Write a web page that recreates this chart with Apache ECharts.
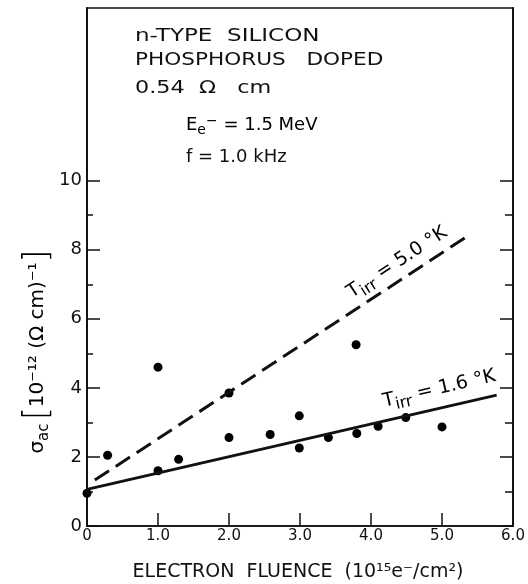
<!DOCTYPE html>
<html><head><meta charset="utf-8">
<script src="https://cdn.jsdelivr.net/npm/echarts@6/dist/echarts.min.js"></script>
<style>html,body{margin:0;padding:0;background:#fff}#c{width:528px;height:584px}</style>
</head><body><div id="c"></div>
<script>
// Measured points
const fluence = [0, 0.29, 1.0, 1.0, 1.29, 2.0, 2.0, 2.58, 2.99, 2.99, 3.4, 3.8, 3.79, 4.1, 4.49, 5.0];
const sigma   = [0.95, 2.05, 1.6, 4.6, 1.93, 2.56, 3.85, 2.65, 3.19, 2.26, 2.56, 2.68, 5.25, 2.89, 3.14, 2.87];
// Fit lines (endpoints)
const fit16X = [0, 5.77];
const fit16Y = [1.06, 3.79];
const fit50X = [0.11, 5.35];
const fit50Y = [1.33, 8.38];
// Tick labels
const xTicks = [0, 1, 2, 3, 4, 5, 6];
const xTickLabels = ['0', '1.0', '2.0', '3.0', '4.0', '5.0', '6.0'];
const yMajor = [0, 2, 4, 6, 8, 10];
const yMinor = [1, 3, 5, 7, 9];
const infoLines = ['n-TYPE  SILICON', 'PHOSPHORUS   DOPED', '0.54  Ω   cm'];

const FONT = 'DejaVu Sans';
const INK = '#111';
const chart = echarts.init(document.getElementById('c'), null, {renderer: 'canvas'});

const axisLine = {show: true, lineStyle: {color: INK, width: 1.5}};
function yAx(pos, ticks, len, labels) {
  return {
    type: 'value', position: pos, min: 0, max: 15,
    axisLine: axisLine,
    splitLine: {show: false},
    axisTick: {show: true, inside: true, length: len, customValues: ticks, lineStyle: {color: INK, width: 1.5}},
    axisLabel: labels ? {show: true, customValues: yMajor, color: INK, fontFamily: FONT, fontSize: 18, margin: 5} : {show: false}
  };
}

chart.setOption({
  animation: false,
  backgroundColor: '#fff',
  grid: {left: 87, right: 15, top: 8, bottom: 58, containLabel: false, show: true, borderColor: INK, borderWidth: 1.5, backgroundColor: 'transparent'},
  xAxis: [
    {type: 'value', position: 'bottom', min: 0, max: 6,
     axisLine: axisLine, splitLine: {show: false},
     axisTick: {show: true, inside: true, length: 13, customValues: [1, 2, 3, 4, 5], lineStyle: {color: INK, width: 1.5}},
     axisLabel: {show: true, customValues: xTicks, color: INK, fontFamily: FONT, fontSize: 15, margin: 3,
       formatter: v => xTickLabels[xTicks.indexOf(v)] ?? ''}}
  ],
  yAxis: [
    yAx('left', yMajor, 13, true),
    yAx('left', yMinor, 6, false),
    yAx('right', yMajor, 13, false),
    yAx('right', yMinor, 8, false)
  ],
  series: [
    {type: 'line', data: fit16X.map((x, i) => [x, fit16Y[i]]), showSymbol: false, symbol: 'none',
     lineStyle: {color: INK, width: 3}},
    {type: 'line', data: fit50X.map((x, i) => [x, fit50Y[i]]), showSymbol: false, symbol: 'none',
     lineStyle: {color: INK, width: 3, type: [17, 8]}},
    {type: 'scatter', data: fluence.map((x, i) => [x, sigma[i]]), symbol: 'circle', symbolSize: 9,
     itemStyle: {color: '#000', opacity: 1}}
  ]
});

function px(x, y) { return chart.convertToPixel({gridIndex: 0}, [x, y]); }
function angleOf(xs, ys) {
  const a = px(xs[0], ys[0]), b = px(xs[1], ys[1]);
  return Math.atan2(a[1] - b[1], b[0] - a[0]);
}
const richT = {
  n: {fontFamily: FONT, fontSize: 19, color: INK, lineHeight: 28, verticalAlign: 'middle'},
  sub: {fontFamily: FONT, fontSize: 16, color: INK, lineHeight: 28, verticalAlign: 'bottom', padding: [9, 0, 0, 0]}
};
const l50 = px(4.37, 7.63), l16 = px(4.96, 3.97);
const yTitlePos = px(0, 5.05);
const gfx = [];
const infoScale = [1.28, 1.2, 1.24];
infoLines.forEach((t, i) => {
  gfx.push({type: 'text', x: 135, y: [27, 51, 79][i], scaleX: infoScale[i],
    style: {text: t, fontFamily: FONT, fontSize: 18, fill: INK}});
});
gfx.push({type: 'text', left: 186, top: 114,
  style: {text: '{n|E}{sub|e}{sup|−}{n| = 1.5 MeV}', rich: {
    n: {fontFamily: FONT, fontSize: 18, color: INK},
    sub: {fontFamily: FONT, fontSize: 14, color: INK, padding: [10, 0, 0, 0]},
    sup: {fontFamily: FONT, fontSize: 14, color: INK, padding: [0, 0, 8, 0]}
  }}});
gfx.push({type: 'text', left: 186, top: 148,
  style: {text: 'f = 1.0 kHz', fontFamily: FONT, fontSize: 18, fill: INK}});
gfx.push({type: 'text', x: l50[0], y: l50[1], rotation: angleOf(fit50X, fit50Y),
  style: {text: '{n|T}{sub|irr}{n| = 5.0 °K}', rich: richT, align: 'center', verticalAlign: 'middle', textAlign: 'center', textVerticalAlign: 'middle'}});
gfx.push({type: 'text', x: l16[0], y: l16[1], rotation: angleOf(fit16X, fit16Y),
  style: {text: '{n|T}{sub|irr}{n| = 1.6 °K}', rich: richT, align: 'center', verticalAlign: 'middle', textAlign: 'center', textVerticalAlign: 'middle'}});
gfx.push({type: 'text', x: 38, y: yTitlePos[1], rotation: Math.PI / 2,
  style: {text: '{n|σ}{sub|ac} {b|[}{n|10⁻¹² (Ω cm)⁻¹}{b|]}', align: 'center', verticalAlign: 'middle', textAlign: 'center', textVerticalAlign: 'middle',
    rich: {
      n: {fontFamily: FONT, fontSize: 20, color: INK, lineHeight: 36},
      sub: {fontFamily: FONT, fontSize: 15, color: INK, lineHeight: 36, padding: [13, 0, 0, 0]},
      b: {fontFamily: FONT, fontSize: 33, color: INK, lineHeight: 36, fontWeight: 200}
    }}});
const xTitle = px(3, 0);
gfx.push({type: 'text', x: xTitle[0] - 2, y: 572,
  style: {text: 'ELECTRON  FLUENCE  (10¹⁵e⁻/cm²)', fontFamily: FONT, fontSize: 19, fill: INK,
    align: 'center', verticalAlign: 'middle', textAlign: 'center', textVerticalAlign: 'middle'}});
chart.setOption({graphic: {elements: gfx}});
</script></body></html>
